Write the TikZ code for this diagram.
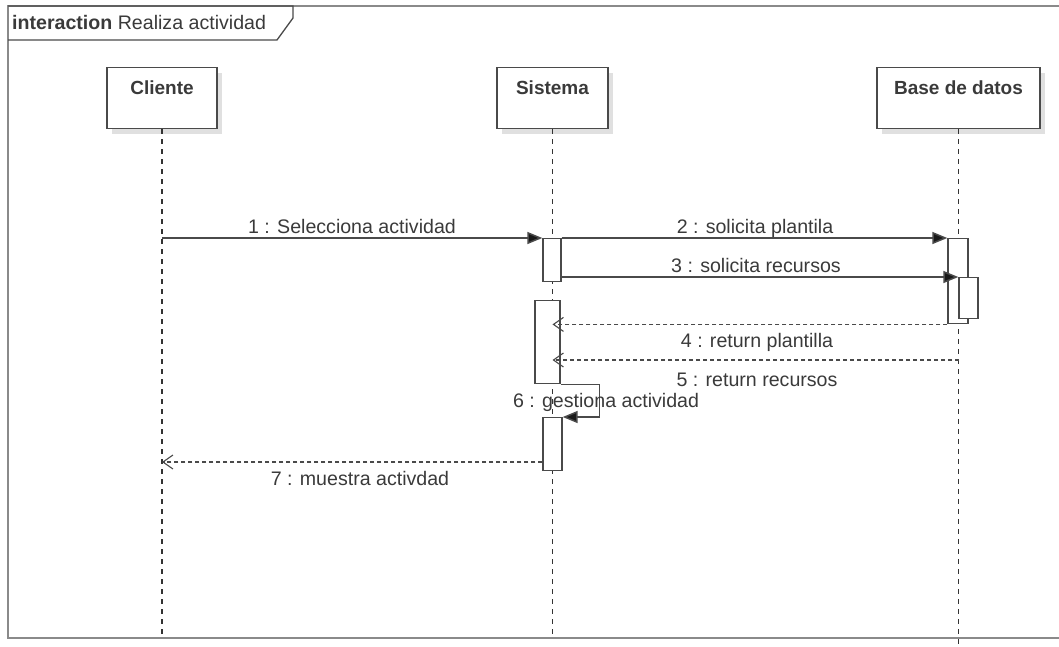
\documentclass[tikz,border=0pt]{standalone}
\usepackage{fontspec}
\setmainfont{Liberation Sans}
\usetikzlibrary{arrows.meta,shadows}

\definecolor{linegray}{HTML}{4A4A4A}
\definecolor{framegray}{HTML}{8A8A8A}
\definecolor{textgray}{HTML}{3A3A3A}

\begin{document}
\begin{tikzpicture}[x=1pt,y=-1pt,
    lbl/.style={text=textgray, inner sep=0pt, font=\fontsize{19.6}{23}\selectfont},
    actor/.style={draw=linegray, line width=1.3pt, fill=white, anchor=north,
        minimum width=#1, minimum height=61pt, inner sep=0pt,
        drop shadow={shadow xshift=5pt, shadow yshift=-5pt, fill=black!12, opacity=1}},
    act/.style={draw=linegray, line width=1.4pt, fill=white, anchor=north, inner sep=0pt},
    lifeline/.style={black!80, line width=1.1pt, dash pattern=on 5pt off 5pt},
    msg/.style={linegray, line width=1.5pt, -{Triangle[length=15pt,width=12pt,fill=black!90]}},
    ret/.style={linegray, line width=1.4pt, dash pattern=on 4pt off 3pt,
        -{Straight Barb[length=10pt,width=14pt,line width=1.1pt]}},
    frame/.style={framegray, line width=2.4pt}]
\useasboundingbox (0,0) rectangle (1059,646);

    % frame of the interaction
    \draw[frame] (1062,6) -- (8,6) -- (8,638) -- (1062,638);
    \draw[linegray, line width=1.3pt] (8,6) -- (293,6) -- (293,18) -- (277,40) -- (8,40);
    \node[lbl, anchor=base west] (ttl) at (12,29) {\textbf{interaction} Realiza actividad};

    % lifelines
    \node[actor=110pt, label={[lbl, font=\bfseries\fontsize{19}{23}\selectfont, anchor=north, yshift=-14pt]north:Cliente}] (cli) at (162,67) {};
    \node[actor=111pt, label={[lbl, font=\bfseries\fontsize{19}{23}\selectfont, anchor=north, yshift=-14pt]north:Sistema}] (sis) at (552.5,67) {};
    \node[actor=163pt, label={[lbl, font=\bfseries\fontsize{19}{23}\selectfont, anchor=north, yshift=-14pt]north:Base de datos}] (bd) at (958.5,67) {};
    \draw[lifeline] (cli.south) -- ++(0,509);
    \draw[lifeline] (sis.south) -- ++(0,509);
    \draw[lifeline] (bd.south) -- ++(0,518);

    % activations
    \node[act, minimum width=18pt, minimum height=43pt] (sa1) at (552,238) {};
    \node[act, minimum width=25pt, minimum height=83pt] (sa2) at (547.5,300) {};
    \node[act, minimum width=19pt, minimum height=53pt] (sa3) at (552.5,417) {};
    \node[act, minimum width=20pt, minimum height=85pt] (ba1) at (958,238) {};
    \node[act, minimum width=19pt, minimum height=41pt] (ba2) at (968.5,277) {};

    \coordinate (c1) at (162,238);
    \coordinate (c5) at (959,360);
    \coordinate (c7) at (162,462);

    % messages
    \draw[msg] (c1) -- (sa1.north west);
    \draw[msg] (sa1.north east) -- (ba1.north west);
    \draw[msg] (sa1.east |- ba2.north) -- (ba2.north west);
    \draw[ret] (ba1.south west) -- (sis.south |- ba1.south);
    \draw[ret] (c5) -- (sis.south |- c5);
    \draw[msg] (sa2.south east) -- ++(39,0) |- (sa3.north east);
    \draw[ret] (sa3.west |- c7) -- (c7);

    \node[lbl, anchor=base] (l1) at (352,233) {1 : Selecciona actividad};
    \node[lbl, anchor=base] (l2) at (755,233) {2 : solicita plantila};
    \node[lbl, anchor=base] (l3) at (756,272) {3 : solicita recursos};
    \node[lbl, anchor=base] (l4) at (757,347) {4 : return plantilla};
    \node[lbl, anchor=base] (l5) at (757,386) {5 : return recursos};
    \node[lbl, anchor=base] (l6) at (606,407) {6 : gestiona actividad};
    \node[lbl, anchor=base] (l7) at (360,485) {7 : muestra activdad};

\end{tikzpicture}
\end{document}
